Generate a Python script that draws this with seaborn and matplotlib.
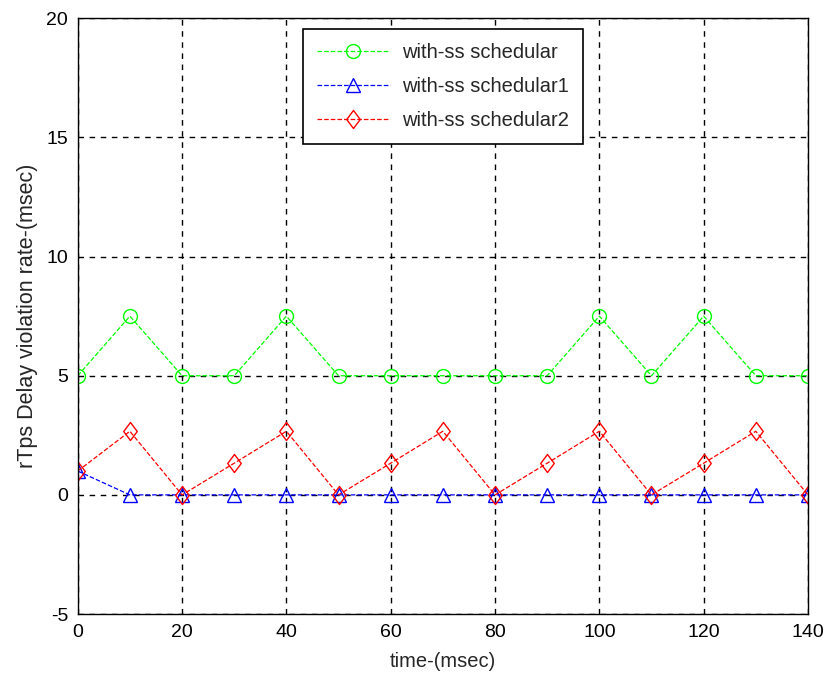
import matplotlib
matplotlib.use("Agg")
import matplotlib.pyplot as plt
from matplotlib.path import Path
import seaborn as sns
import pandas as pd

# time axis (msec)
time_ms = [0, 10, 20, 30, 40, 50, 60, 70, 80, 90, 100, 110, 120, 130, 140]

# delay violation rate per scheduler
sched = [5, 7.5, 5, 5, 7.5, 5, 5, 5, 5, 5, 7.5, 5, 7.5, 5, 5]
sched1 = [1, 0, 0, 0, 0, 0, 0, 0, 0, 0, 0, 0, 0, 0, 0]
sched2 = [1, 2.67, 0, 1.33, 2.67, 0, 1.33, 2.67, 0, 1.33, 2.67, 0, 1.33, 2.67, 0]

labels = ["with-ss schedular", "with-ss schedular1", "with-ss schedular2"]
colors = ["#00ff00", "#0000ff", "#ff0000"]

# slightly narrow diamond marker
diamond = Path([(0, 1), (0.75, 0), (0, -1), (-0.75, 0), (0, 1)],
               [Path.MOVETO, Path.LINETO, Path.LINETO, Path.LINETO, Path.CLOSEPOLY])
markers = ["o", "^", diamond]
msizes = [10, 10, 13]

xticks = [0, 20, 40, 60, 80, 100, 120, 140]
yticks = [-5, 0, 5, 10, 15, 20]

sns.set_style("white")
plt.rcParams["font.family"] = ["Liberation Sans", "DejaVu Sans"]
plt.rcParams["axes.unicode_minus"] = False

fig = plt.figure(figsize=(8.27, 6.77), dpi=100)
ax = fig.add_axes([0.094, 0.093, 0.883, 0.880])

for series, lab, c, m, ms in zip([sched, sched1, sched2], labels, colors, markers, msizes):
    df = pd.DataFrame({"time": time_ms, "rate": series})
    sns.lineplot(data=df, x="time", y="rate", ax=ax, label=lab, color=c,
                 linestyle="--", linewidth=0.9, marker=m, markersize=ms,
                 markerfacecolor="none", markeredgecolor=c, markeredgewidth=1.0,
                 dashes=(3.5, 3))

ax.set_xlim(0, 140)
ax.set_ylim(-5, 20)
ax.set_xticks(xticks)
ax.set_yticks(yticks)
ax.tick_params(direction="in", length=5, labelsize=14, colors="black", width=1, pad=7)
ax.grid(True, color="black", linestyle=(0, (4, 4)), linewidth=1.0)
ax.set_axisbelow(True)
for s in ax.spines.values():
    s.set_visible(True)
    s.set_color("black")
    s.set_linewidth(1.0)

ax.set_xlabel("time-(msec)", fontsize=14.5, labelpad=8)
ax.set_ylabel("rTps Delay violation rate-(msec)", fontsize=15.5, labelpad=6)

leg = ax.legend(loc="upper center", bbox_to_anchor=(0.5, 0.982), fontsize=14.5,
                frameon=True, fancybox=False, framealpha=1, edgecolor="black",
                handlelength=3.6, handletextpad=0.6, borderpad=0.7, labelspacing=0.75,
                borderaxespad=0)
leg.get_frame().set_linewidth(1.2)

fig.savefig("out.png", dpi=100)
